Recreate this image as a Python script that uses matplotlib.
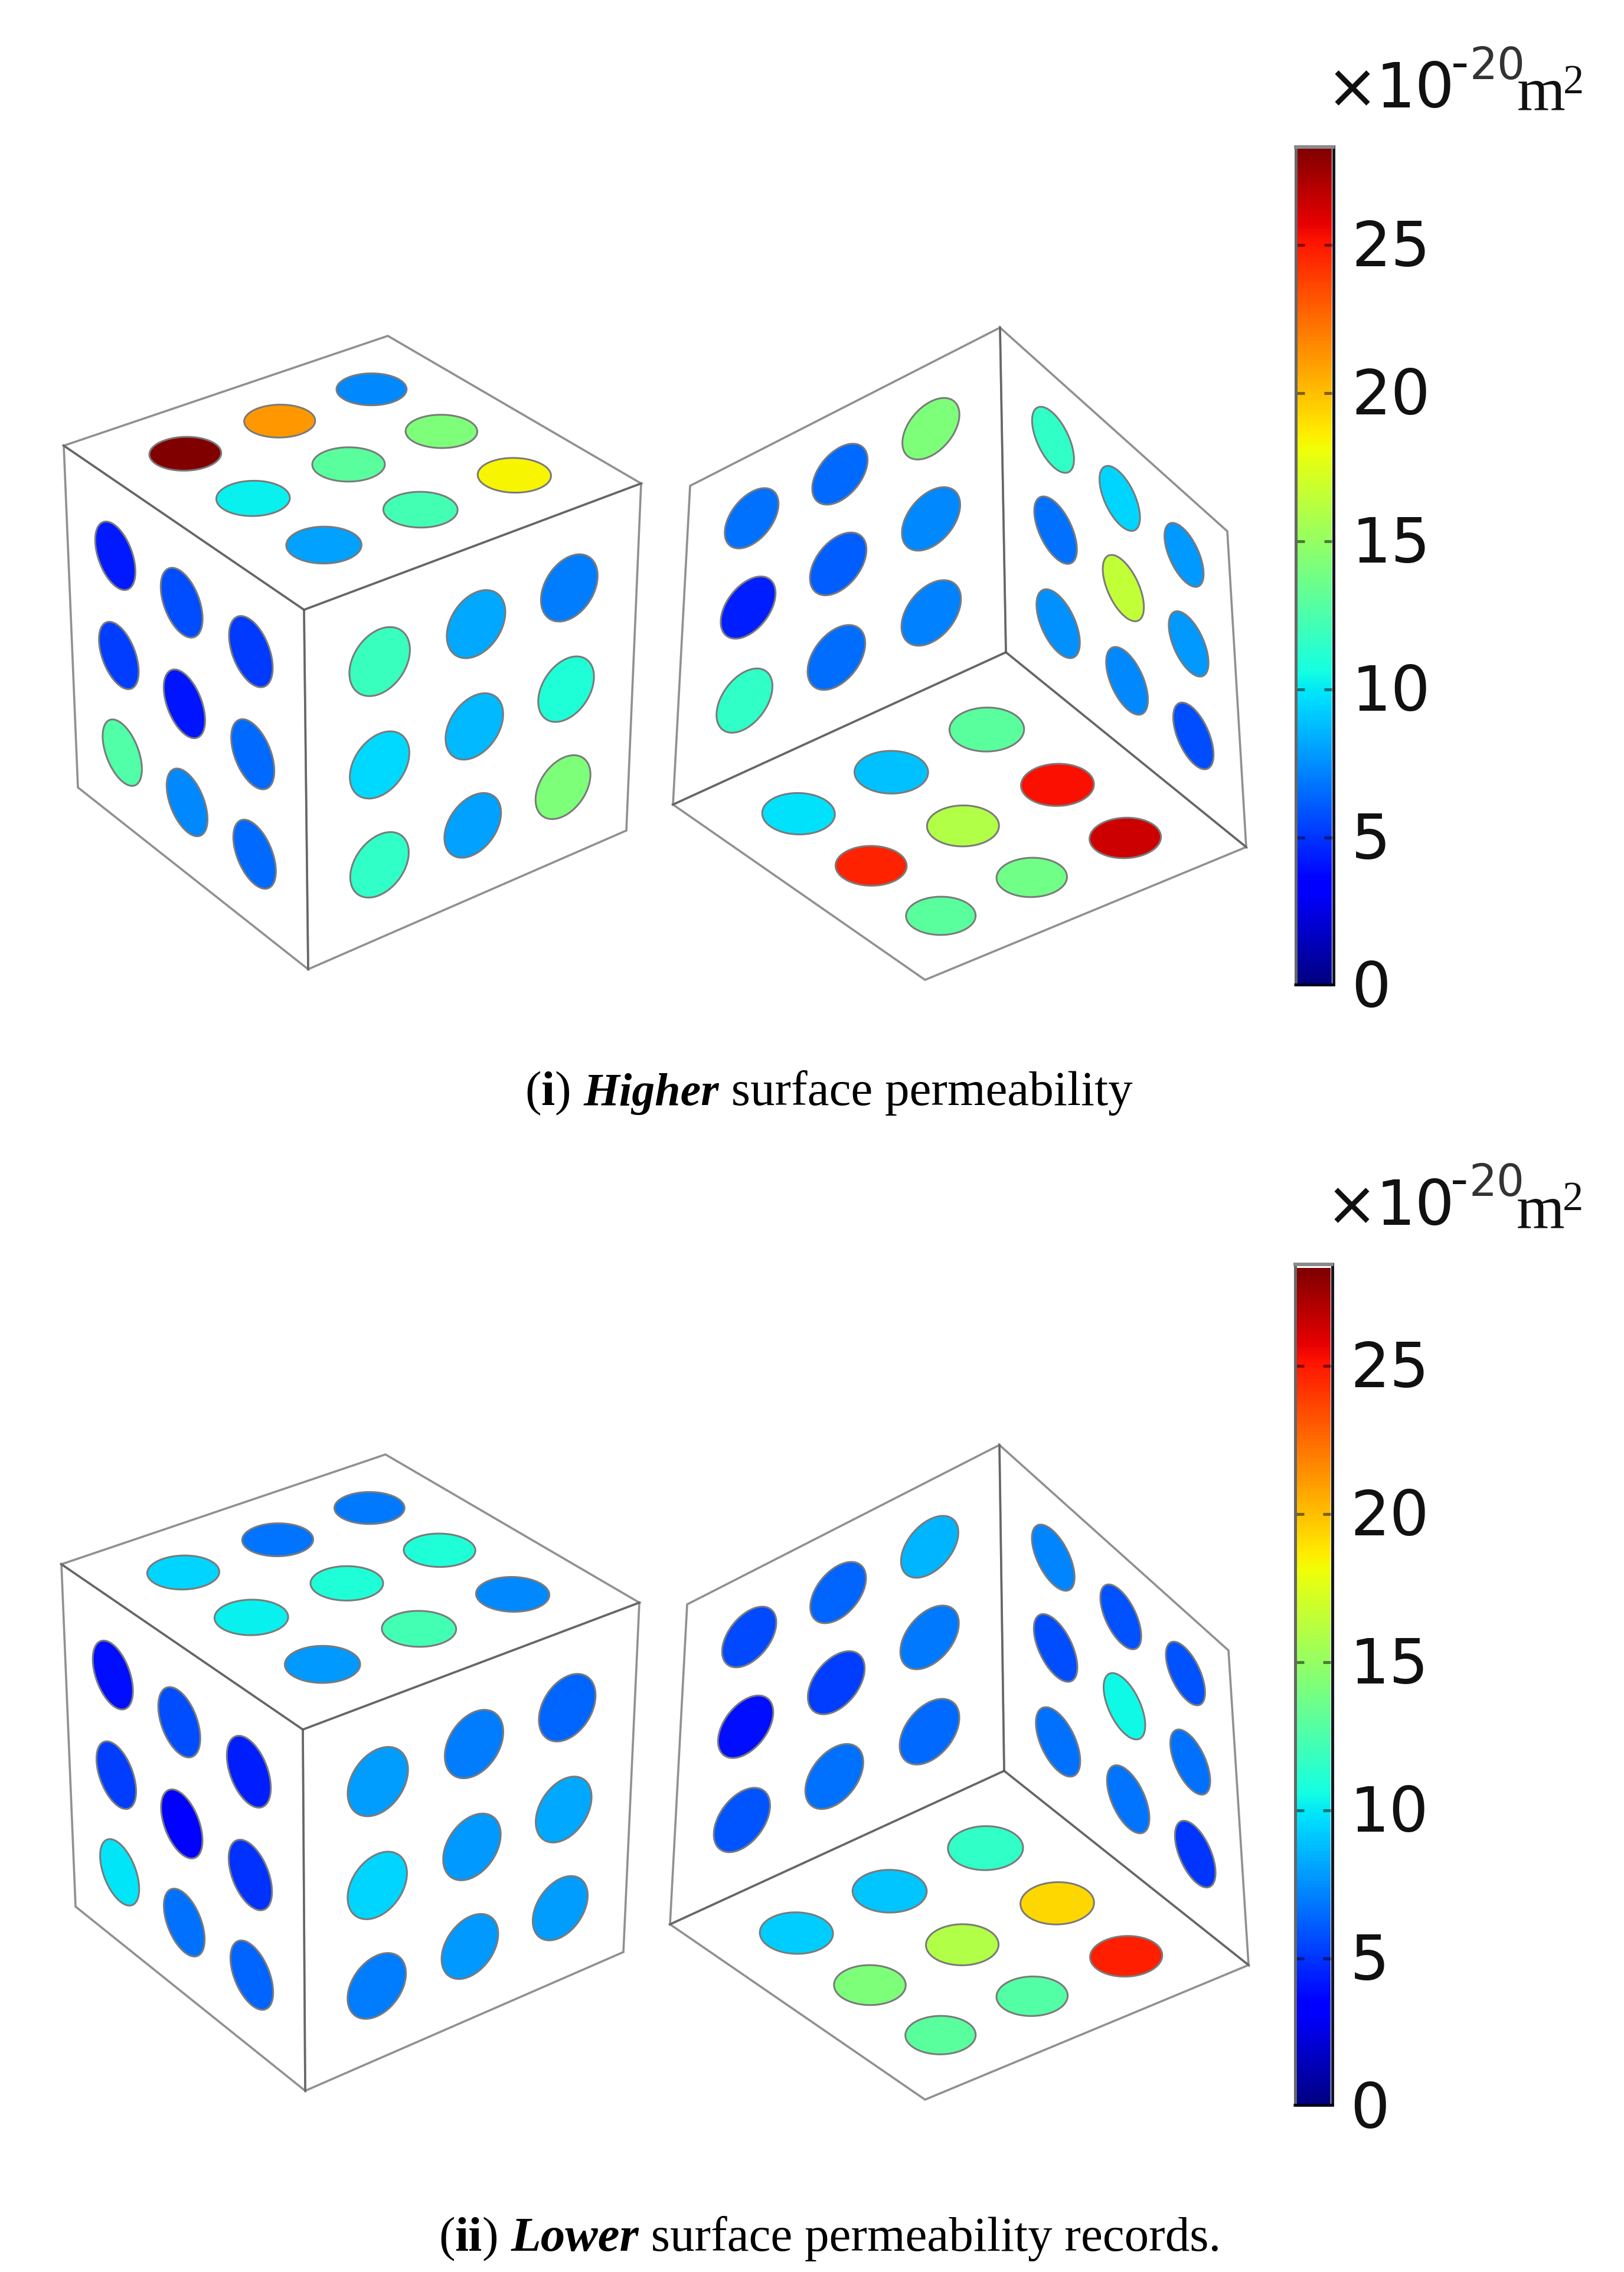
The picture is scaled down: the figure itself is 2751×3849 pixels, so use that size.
import numpy as np
import matplotlib
matplotlib.use("Agg")
import matplotlib.pyplot as plt
from matplotlib.cm import ScalarMappable
from matplotlib.colors import Normalize
from matplotlib.patches import Polygon
from matplotlib.transforms import ScaledTranslation

W, H = 2751, 3849
DPI = 100
PX = 72 / DPI

# ---------- data: permeability (x 10^-20 m^2) of each spot, face rows [row][col]
i_top = [[28.3, 21.2, 7.4], [10.2, 13.0, 14.2], [8.0, 12.2, 18.4]]
i_left = [[4.3, 5.7, 5.1], [5.3, 4.2, 6.5], [12.7, 7.4, 6.5]]
i_right = [[11.9, 8.2, 7.0], [9.6, 8.7, 11.0], [11.5, 8.0, 14.2]]
i_back_left = [[6.7, 6.5, 14.2], [4.4, 6.1, 7.3], [11.5, 6.6, 7.1]]
i_back_right = [[11.5, 9.4, 7.8], [6.7, 16.5, 7.8], [7.6, 7.4, 5.7]]
i_bottom = [[9.8, 8.9, 13.0], [24.7, 16.0, 25.3], [13.0, 13.8, 26.4]]

ii_top = [[9.4, 6.8, 6.9], [10.2, 11.0, 11.0], [7.8, 12.2, 7.4]]
ii_left = [[3.9, 5.7, 4.4], [5.3, 3.6, 4.9], [9.9, 6.7, 6.4]]
ii_right = [[7.9, 7.0, 6.4], [9.4, 7.8, 8.2], [7.0, 7.8, 7.9]]
ii_back_left = [[5.6, 6.4, 8.6], [3.9, 5.2, 6.9], [5.9, 6.7, 6.5]]
ii_back_right = [[7.2, 5.8, 5.8], [5.7, 10.5, 6.7], [6.7, 6.8, 5.0]]
ii_bottom = [[9.2, 9.0, 11.5], [14.2, 16.0, 19.3], [13.0, 12.8, 24.8]]

colorbar_ticks = [0, 5, 10, 15, 20, 25]
VMIN, VMAX = 0, 28.3

# ---------- layout (pixels of the image)
GRID = (0.215, 0.5, 0.785)
SPOT_R = 0.088

c1 = dict(back=(657, 569), left=(108, 755), front=(515, 1033), right=(1086, 819),
          lb=(132, 1334), fb=(522, 1642), rb=(1061, 1407))
c2 = dict(top=(1694, 555), lt=(1169, 823), lb=(1140, 1363), c=(1704, 1105),
          rt=(2079, 900), rb=(2111, 1435), bot=(1567, 1660))
c3 = dict(back=(653, 2464), left=(104, 2650), front=(513, 2930), right=(1083, 2715),
          lb=(128, 3230), fb=(517, 3542), rb=(1056, 3307))
c4 = dict(top=(1693, 2448), lt=(1164, 2718), lb=(1135, 3260), c=(1701, 3000),
          rt=(2081, 2796), rb=(2115, 3329), bot=(1567, 3557))

fig = plt.figure(figsize=(W / DPI, H / DPI), dpi=DPI, facecolor="white")
ax = fig.add_axes([0, 0, 1, 1], zorder=5)
ax.set_xlim(0, W)
ax.set_ylim(H, 0)
ax.axis("off")

cmap = matplotlib.colormaps["jet"]
norm = Normalize(VMIN, VMAX)


def homography(quad):
    """Unit square (0,0),(1,0),(1,1),(0,1) -> quad."""
    src = [(0, 0), (1, 0), (1, 1), (0, 1)]
    A, b = [], []
    for (u, v), (x, y) in zip(src, quad):
        A.append([u, v, 1, 0, 0, 0, -u * x, -v * x])
        A.append([0, 0, 0, u, v, 1, -u * y, -v * y])
        b += [x, y]
    h = np.linalg.solve(np.array(A, float), np.array(b, float))
    return np.append(h, 1).reshape(3, 3)


def face(quad, values):
    ax.add_patch(Polygon(quad, closed=True, fill=False,
                         ec=(0.3, 0.3, 0.3, 0.62), lw=3.6 * PX, joinstyle="miter"))
    M = homography(quad)
    t = np.linspace(0, 2 * np.pi, 90, endpoint=False)
    for r, row in enumerate(values):
        for c, val in enumerate(row):
            uvw = np.c_[GRID[c] + SPOT_R * np.cos(t), GRID[r] + SPOT_R * np.sin(t), np.ones_like(t)]
            xyw = uvw @ M.T
            ax.add_patch(Polygon(xyw[:, :2] / xyw[:, 2:], closed=True,
                                 fc=cmap(norm(val)), ec="#7a7a7a", lw=3.0 * PX))


def outer_cube(c, top, left, right):
    face([c["left"], c["back"], c["right"], c["front"]], top)
    face([c["left"], c["front"], c["fb"], c["lb"]], left)
    face([c["front"], c["right"], c["rb"], c["fb"]], right)


def inner_cube(c, bl, br, bottom):
    face([c["lt"], c["top"], c["c"], c["lb"]], bl)
    face([c["top"], c["rt"], c["rb"], c["c"]], br)
    face([c["lb"], c["c"], c["rb"], c["bot"]], bottom)


outer_cube(c1, i_top, i_left, i_right)
inner_cube(c2, i_back_left, i_back_right, i_bottom)
outer_cube(c3, ii_top, ii_left, ii_right)
inner_cube(c4, ii_back_left, ii_back_right, ii_bottom)


def colorbar(xl, xr, ytop, ybot, y_zero):
    inner_l, inner_r = xl + 5, xr - 5
    cax = fig.add_axes([inner_l / W, 1 - y_zero / H, (inner_r - inner_l) / W, (y_zero - ytop) / H])
    cb = fig.colorbar(ScalarMappable(norm=norm, cmap=cmap), cax=cax, ticks=colorbar_ticks)
    cb.outline.set_visible(False)
    cax.tick_params(axis="y", which="major", direction="in", left=True, right=True,
                    labelleft=False, labelright=True, length=13 * PX, width=5 * PX,
                    color=(0, 0, 0, 0.5), pad=33 * PX, labelsize=105 * PX, labelcolor="#111111")
    cax.set_ylim(VMIN, (y_zero - ytop) / (50.2 * 25) * 25)
    shift = ScaledTranslation(0, 4 / DPI, fig.dpi_scale_trans)
    for tick in cax.yaxis.get_major_ticks():
        tick.label2.set_transform(tick.label2.get_transform() + shift)
        tick.label2.set_family("DejaVu Sans")
    zero_tick = cax.yaxis.get_major_ticks()[0]
    zero_tick.tick1line.set_visible(False)
    zero_tick.tick2line.set_visible(False)
    ax.plot([xl + 2.5, xl + 2.5], [ytop - 5, ybot], color="#666666", lw=5 * PX, solid_capstyle="butt")
    ax.plot([xr - 2.5, xr - 2.5], [ytop - 5, ybot], color="#15151f", lw=5 * PX, solid_capstyle="butt")
    ax.plot([xl, xr], [ytop - 2.5, ytop - 2.5], color="#8a8a8a", lw=6 * PX, solid_capstyle="butt")
    ax.plot([xl, xr], [ybot - 2.5, ybot - 2.5], color="#00001e", lw=5 * PX, solid_capstyle="butt")


colorbar(2192, 2261, 251, 1670, 1670)
colorbar(2191, 2259, 2144, 3568, 3569)


def unit_label(x_shift, base_main, base_exp, base_m, base_m2):
    sans = dict(family="DejaVu Sans", color="#111111", va="baseline", ha="left")
    serif = dict(family="Liberation Serif", color="#111111", va="baseline", ha="left")
    ax.text(2247 + x_shift, base_main, "×", fontsize=105 * PX, **sans)
    ax.text(2331 + x_shift, base_main, "10", fontsize=105 * PX, **sans)
    ax.text(2458 + x_shift, base_exp, "-", fontsize=84 * PX, **sans)
    ax.text(2490 + x_shift, base_exp, "20", fontsize=74 * PX, color="#333333",
            family="DejaVu Sans", va="baseline", ha="left")
    ax.text(2570 + x_shift, base_m, "m", fontsize=105 * PX, **serif)
    ax.text(2648 + x_shift, base_m2, "2", fontsize=70 * PX, **serif)


unit_label(0, 182, 134, 187, 158)
unit_label(-1, 2075, 2026, 2080, 2050)


def caption(x, y, runs):
    r = fig.canvas.get_renderer()
    for s, weight, style, size in runs:
        t = ax.text(x, y, s, fontsize=size * PX, family="Liberation Serif", weight=weight,
                    style=style, va="baseline", ha="left", color="black")
        x += t.get_window_extent(r).width


caption(889, 1872, [("(", "normal", "normal", 83), ("i", "bold", "normal", 83), (")\u00a0", "normal", "normal", 83),
                    ("Higher", "bold", "italic", 78), ("\u00a0surface permeability", "normal", "normal", 83)])
caption(743, 3813, [("(", "normal", "normal", 83), ("ii", "bold", "normal", 83), (")\u00a0", "normal", "normal", 83),
                    ("Lower", "bold", "italic", 83), ("\u00a0surface permeability records.", "normal", "normal", 83)])

fig.savefig("out.png", dpi=DPI)
